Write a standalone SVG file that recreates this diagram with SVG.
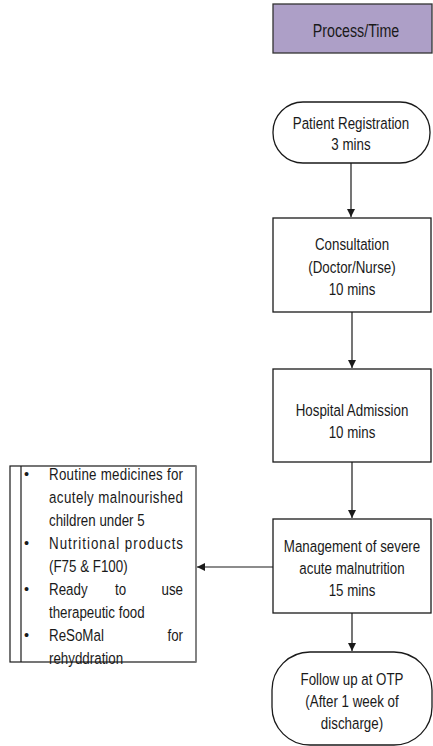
<svg xmlns="http://www.w3.org/2000/svg" width="433" height="746" viewBox="0 0 433 746">
<defs>
<style>
.t{font-family:"Liberation Sans",Arial,sans-serif;font-size:14.5px;fill:#1a1a1a;text-anchor:middle}
.l{font-family:"Liberation Sans",Arial,sans-serif;font-size:14.5px;fill:#1a1a1a}
.e{text-anchor:end}
.n{fill:#fff;stroke:#1a1a1a;stroke-width:1.3}
.c{stroke:#1a1a1a;stroke-width:1.2;fill:none}
</style>
<marker id="ah" viewBox="0 0 10 10" refX="10" refY="5" markerWidth="8" markerHeight="8" orient="auto" markerUnits="userSpaceOnUse">
<path d="M0,0 L10,5 L0,10 z" fill="#1a1a1a"/>
</marker>
</defs>
<rect width="433" height="746" fill="#fff"/>
<g id="header">
<rect x="273" y="4" width="159" height="49" fill="#ad9fc7" stroke="#333" stroke-width="1.3"/>
<text class="t" transform="translate(356 37) scale(.92 1.2)" style="font-size:15.5px">Process/Time</text>
</g>
<g id="registration">
<rect class="n" x="273" y="102" width="157" height="61" rx="30" ry="30"/>
<text class="t" transform="translate(351 129) scale(.92 1.2)">Patient Registration</text>
<text class="t" transform="translate(351 150) scale(.92 1.2)">3 mins</text>
</g>
<g id="consultation">
<rect class="n" x="273" y="218" width="158" height="94"/>
<text class="t" transform="translate(352 250) scale(.92 1.2)">Consultation</text>
<text class="t" transform="translate(352 273) scale(.92 1.2)">(Doctor/Nurse)</text>
<text class="t" transform="translate(352 295) scale(.92 1.2)">10 mins</text>
</g>
<g id="admission">
<rect class="n" x="273" y="369" width="158" height="93"/>
<text class="t" transform="translate(352 416) scale(.92 1.2)">Hospital Admission</text>
<text class="t" transform="translate(352 438) scale(.92 1.2)">10 mins</text>
</g>
<g id="management">
<rect class="n" x="273" y="519" width="158" height="94"/>
<text class="t" transform="translate(352 552) scale(.92 1.2)">Management of severe</text>
<text class="t" transform="translate(352 574) scale(.92 1.2)">acute malnutrition</text>
<text class="t" transform="translate(352 596) scale(.92 1.2)">15 mins</text>
</g>
<g id="followup">
<rect class="n" x="272" y="652" width="160" height="93" rx="38" ry="38"/>
<text class="t" transform="translate(352 685) scale(.92 1.2)">Follow up at OTP</text>
<text class="t" transform="translate(352 707) scale(.92 1.2)">(After 1 week of</text>
<text class="t" transform="translate(352 729) scale(.92 1.2)">discharge)</text>
</g>
<g id="supplies">
<rect x="10" y="466" width="186" height="196" fill="#fff" stroke="#1a1a1a" stroke-width="1.2"/>
<line x1="21" y1="466" x2="21" y2="662" stroke="#1a1a1a" stroke-width="1.2"/>
<line x1="196" y1="466" x2="196" y2="662" stroke="#888" stroke-width="1.5"/>
<text class="l" x="24" y="479">•</text>
<text class="l" x="24" y="548">•</text>
<text class="l" x="24" y="594">•</text>
<text class="l" x="24" y="640">•</text>
<text class="l" transform="translate(49 480) scale(.92 1.2)" textLength="145.7" lengthAdjust="spacing">Routine medicines for</text>
<text class="l" transform="translate(49 503) scale(.92 1.2)" textLength="145.7" lengthAdjust="spacing">acutely malnourished</text>
<text class="l" transform="translate(49 526) scale(.92 1.2)">children under 5</text>
<text class="l" transform="translate(49 549) scale(.92 1.2)" textLength="145.7" lengthAdjust="spacing">Nutritional products</text>
<text class="l" transform="translate(49 572) scale(.92 1.2)">(F75 &amp; F100)</text>
<text class="l" transform="translate(49 595) scale(.92 1.2)">Ready</text>
<text class="l" transform="translate(115 595) scale(.92 1.2)">to</text>
<text class="l e" transform="translate(183 595) scale(.92 1.2)">use</text>
<text class="l" transform="translate(49 618) scale(.92 1.2)">therapeutic food</text>
<text class="l" transform="translate(49 641) scale(.92 1.2)">ReSoMal</text>
<text class="l e" transform="translate(183 641) scale(.92 1.2)">for</text>
<text class="l" transform="translate(49 664) scale(.92 1.2)">rehyddration</text>
</g>
<g id="connectors">
<line class="c" x1="351" y1="163" x2="351" y2="217" marker-end="url(#ah)"/>
<line class="c" x1="352" y1="312" x2="352" y2="368" marker-end="url(#ah)"/>
<line class="c" x1="352" y1="462" x2="352" y2="518" marker-end="url(#ah)"/>
<line class="c" x1="352" y1="613" x2="352" y2="651" marker-end="url(#ah)"/>
<line class="c" x1="273" y1="567" x2="197" y2="567" marker-end="url(#ah)"/>
</g>
</svg>
